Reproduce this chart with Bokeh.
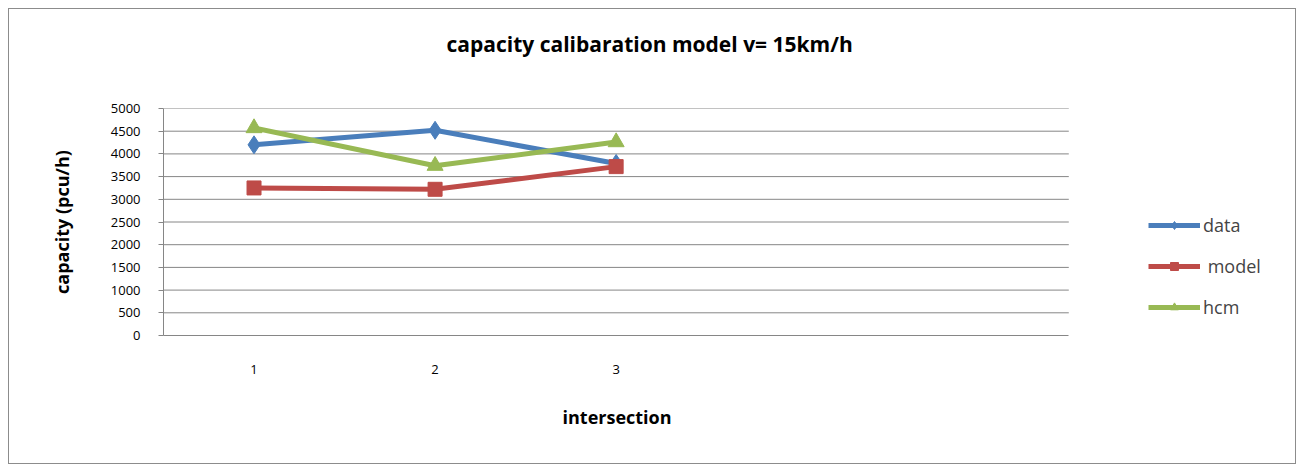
from bokeh.plotting import figure
from bokeh.models import Range1d, FixedTicker, Legend, LegendItem, Title
from bokeh.embed import file_html
from bokeh.resources import INLINE

categories = [1, 2, 3]
tick_labels = {1: "1", 2: "2", 3: "3"}
y_ticks = [0, 500, 1000, 1500, 2000, 2500, 3000, 3500, 4000, 4500, 5000]
data_vals = [4200, 4520, 3790]
model_vals = [3250, 3220, 3720]
hcm_vals = [4570, 3740, 4260]

BLUE = "#4A7EBB"
RED = "#BE4B48"
GREEN = "#98B954"
GRID = "#868686"
FONT = "Open Sans"

X0, X1 = 0.5, 5.5          # category axis extent (5 slots)
X_END = 6.708              # frame extends right to host the legend

p = figure(width=1288, height=456, output_backend="svg", toolbar_location=None,
           x_range=Range1d(X0, X_END), y_range=Range1d(0, 5000),
           min_border_left=154, min_border_right=10, min_border_top=99, min_border_bottom=130)
p.styles = {"border": "1px solid #8c8c8c", "margin-left": "8px", "margin-top": "8px"}
p.outline_line_color = None
p.background_fill_color = "white"
p.border_fill_color = "white"

# chart title (spacer keeps the gap between title and plot area)
spacer = Title(text=" ", text_font_size="1px", standoff=46)
main_title = Title(text="capacity calibaration model v= 15km/h", align="left", offset=283,
                   text_font=FONT, text_font_size="21px", text_font_style="bold",
                   text_color="black", standoff=4)
p.add_layout(spacer, "above")
p.add_layout(main_title, "above")

# horizontal gridlines limited to the category extent
p.xgrid.grid_line_color = None
p.ygrid.grid_line_color = None
p.segment(x0=[X0] * len(y_ticks[1:]), x1=[X1] * len(y_ticks[1:]), y0=y_ticks[1:], y1=y_ticks[1:],
          line_color=GRID, line_width=1)

p.yaxis.ticker = FixedTicker(ticks=y_ticks)
p.xaxis.ticker = FixedTicker(ticks=categories)
p.xaxis.major_label_overrides = tick_labels
p.xaxis.bounds = (X0, X1)

for ax in (p.xaxis[0], p.yaxis[0]):
    ax.axis_line_color = GRID
    ax.axis_line_width = 1
    ax.minor_tick_line_color = None
    ax.major_label_text_font = FONT
    ax.major_label_text_font_size = "13px"
    ax.major_label_text_color = "black"
    ax.axis_label_text_font = FONT
    ax.axis_label_text_font_size = "18px"
    ax.axis_label_text_font_style = "bold"
    ax.axis_label_text_color = "black"

p.xaxis.major_tick_line_color = None
p.xaxis.major_label_standoff = 23

# x-axis title centred under the category extent
x_title = Title(text="intersection", align="left", offset=399, vertical_align="top",
                text_font=FONT, text_font_size="18px", text_font_style="bold",
                text_color="black", standoff=56)
p.add_layout(x_title, "below")

p.yaxis.major_tick_line_color = GRID
p.yaxis.major_tick_out = 5
p.yaxis.major_tick_in = 0
p.yaxis.major_label_standoff = 18
p.yaxis.axis_label = "capacity (pcu/h)"
p.yaxis.axis_label_standoff = 34

LW = 5
l1 = p.line(categories, data_vals, line_color=BLUE, line_width=LW)
m1 = p.scatter(categories, data_vals, marker="diamond", size=18, fill_color=BLUE, line_color=BLUE)
l2 = p.line(categories, model_vals, line_color=RED, line_width=LW)
m2 = p.scatter(categories, model_vals, marker="square", size=14, fill_color=RED, line_color=RED)
l3 = p.line(categories, hcm_vals, line_color=GREEN, line_width=LW)
m3 = p.scatter(categories, hcm_vals, marker="triangle", size=16, fill_color=GREEN, line_color=GREEN)

legend = Legend(items=[
    LegendItem(label="data", renderers=[l1, m1]),
    LegendItem(label=" model", renderers=[l2, m2]),
    LegendItem(label="hcm", renderers=[l3, m3]),
], location=(985, 16), orientation="vertical")
legend.border_line_color = None
legend.background_fill_alpha = 0
legend.margin = 0
legend.padding = 0
legend.label_text_font = FONT
legend.label_text_font_size = "18px"
legend.glyph_width = 52
legend.glyph_height = 20
legend.label_height = 20
legend.spacing = 17
legend.label_standoff = 3
p.add_layout(legend, "center")

open("out.html", "w").write(file_html(p, INLINE))
